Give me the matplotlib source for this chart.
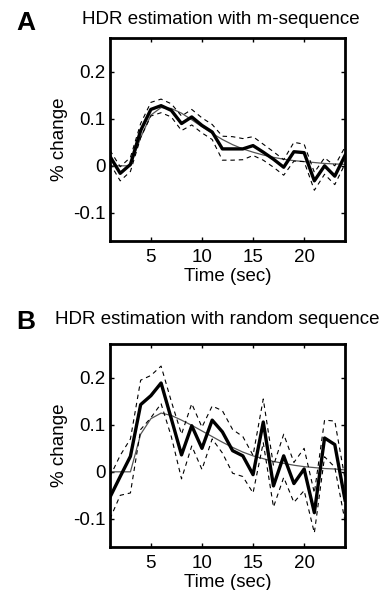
import matplotlib
matplotlib.use("Agg")
import matplotlib.pyplot as plt
import numpy as np

plt.rcParams['font.family'] = ['Liberation Sans', 'DejaVu Sans']

time_s = list(range(1, 25))

# Panel A: m-sequence
a_est = [0.02, -0.016, 0.003, 0.075, 0.12, 0.128, 0.118, 0.09, 0.104, 0.086, 0.072, 0.036,
         0.036, 0.036, 0.043, 0.029, 0.014, -0.003, 0.03, 0.028, -0.032, 0.0, -0.022, 0.022]
a_upper = [0.033, -0.002, 0.018, 0.09, 0.135, 0.142, 0.132, 0.106, 0.12, 0.102, 0.088, 0.063,
           0.062, 0.058, 0.062, 0.046, 0.03, 0.013, 0.05, 0.046, -0.014, 0.017, 0.0, 0.04]
a_lower = [0.005, -0.032, -0.012, 0.06, 0.106, 0.113, 0.104, 0.075, 0.087, 0.07, 0.056, 0.012,
           0.012, 0.013, 0.022, 0.012, -0.003, -0.02, 0.01, 0.009, -0.052, -0.018, -0.04, 0.004]
a_model = [0.0, 0.0, 0.0, 0.06, 0.108, 0.124, 0.122, 0.112, 0.098, 0.083, 0.069, 0.056,
           0.045, 0.036, 0.029, 0.023, 0.018, 0.014, 0.011, 0.009, 0.007, 0.005, 0.004, 0.003]

# Panel B: random sequence
b_est = [-0.054, -0.01, 0.033, 0.143, 0.162, 0.189, 0.113, 0.036, 0.098, 0.05, 0.11, 0.085,
         0.045, 0.034, -0.006, 0.106, -0.03, 0.034, -0.025, 0.006, -0.087, 0.072, 0.058, -0.06]
b_upper = [-0.01, 0.035, 0.07, 0.195, 0.205, 0.225, 0.15, 0.08, 0.145, 0.095, 0.14, 0.13,
           0.09, 0.075, 0.035, 0.155, 0.013, 0.08, 0.02, 0.05, -0.045, 0.11, 0.108, -0.015]
b_lower = [-0.1, -0.05, -0.045, 0.09, 0.115, 0.145, 0.075, -0.015, 0.055, 0.005, 0.07, 0.04,
           -0.003, -0.01, -0.045, 0.062, -0.075, -0.012, -0.065, -0.04, -0.13, 0.032, 0.01, -0.105]
b_model = [0.0, 0.0, 0.0, 0.08, 0.113, 0.125, 0.12, 0.11, 0.099, 0.087, 0.075, 0.063,
           0.052, 0.042, 0.034, 0.028, 0.022, 0.018, 0.014, 0.011, 0.009, 0.007, 0.006, 0.004]

titles = ["HDR estimation with m-sequence", "HDR estimation with random sequence"]
letters = ["A", "B"]
y_ticks = [-0.1, 0, 0.1, 0.2]
y_ticklabels = ["-0.1", "0", "0.1", "0.2"]
x_ticks = [5, 10, 15, 20]

fig = plt.figure(figsize=(3.89, 5.90), dpi=100)
W, H = 389, 590
FS = 13.5

panels = [
    (a_est, a_upper, a_lower, a_model, 38),
    (b_est, b_upper, b_lower, b_model, 344),
]
title_pos = [(221, 19), (217, 320)]
letter_pos = [(16, 23), (16, 322)]

for i, (est, up, lo, model, top) in enumerate(panels):
    ax = fig.add_axes([110 / W, 1 - (top + 203) / H, 235 / W, 203 / H])
    ax.plot(time_s, model, color='#555555', lw=0.9)
    ax.plot(time_s, up, color='black', lw=0.8, ls=(0, (4, 3.5)))
    ax.plot(time_s, lo, color='black', lw=0.8, ls=(0, (4, 3.5)))
    ax.plot(time_s, est, color='black', lw=2.4)
    ax.set_xlim(1, 24)
    ax.set_ylim(-0.16, 0.272)
    ax.set_xticks(x_ticks)
    ax.set_yticks(y_ticks)
    ax.set_yticklabels(y_ticklabels)
    ax.tick_params(direction='in', length=3, width=1, top=True, right=True,
                   labelsize=FS, pad=3)
    ax.tick_params(axis='x', pad=6)
    for s in ax.spines.values():
        s.set_linewidth(2)
    ax.set_xlabel("Time (sec)", fontsize=FS, labelpad=1.5)
    ax.set_ylabel("% change", fontsize=FS, labelpad=4)
    fig.text(title_pos[i][0] / W, 1 - title_pos[i][1] / H, titles[i],
             ha='center', va='center', fontsize=FS)
    fig.text(letter_pos[i][0] / W, 1 - letter_pos[i][1] / H, letters[i],
             ha='left', va='center', fontsize=19, fontweight='bold')

fig.savefig("out.png", dpi=100)
